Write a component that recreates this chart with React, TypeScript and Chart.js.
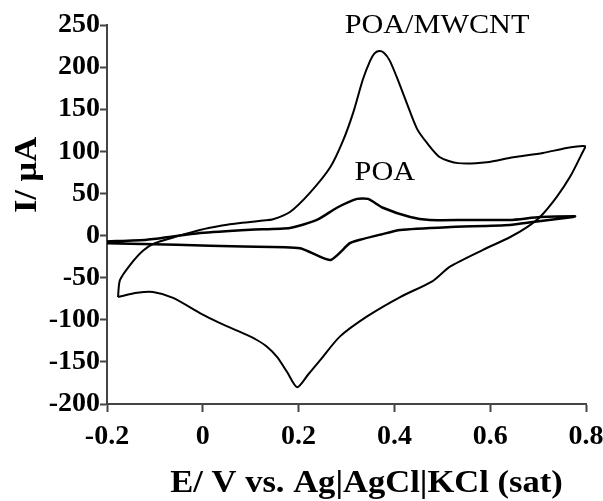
import React, { useEffect, useRef } from "react";
import { Chart, registerables } from "chart.js";

Chart.register(...registerables);

// POA/MWCNT cyclic voltammogram (E in V, I in µA), in scan order
const mwcntE = [
  -0.177, -0.173, -0.152, -0.125, -0.1, -0.06, -0.006, 0.04, 0.078, 0.099, 0.126, 0.145,
  0.182, 0.224, 0.266, 0.293, 0.314, 0.334, 0.349, 0.358, 0.368, 0.378, 0.39, 0.405, 0.426, 0.447,
  0.468, 0.495, 0.533, 0.593, 0.648, 0.71, 0.76, 0.798,
  0.792, 0.767, 0.739, 0.704, 0.677, 0.641, 0.585, 0.516, 0.48, 0.412, 0.343, 0.286,
  0.245, 0.22, 0.197, 0.176, 0.155, 0.134, 0.113, 0.092, 0.036, -0.006, -0.062, -0.104,
  -0.137, -0.177,
];
const mwcntI = [
  -73, -53, -35, -18, -9, -2, 6.7, 12, 15, 16, 18, 19,
  28, 51, 81, 113, 146, 185, 207, 216, 219, 217, 208, 188, 157, 127,
  110, 93, 86, 87, 93, 98, 104, 106,
  98, 70, 46, 22, 10, -2, -17, -37, -54, -73, -96, -120,
  -148, -165, -180, -162, -144, -132, -124, -118, -104, -92, -74, -67,
  -68, -73,
];

// POA cyclic voltammogram
const poaE = [
  -0.2, -0.117, -0.006, 0.099, 0.182, 0.238, 0.28, 0.322, 0.345, 0.376, 0.433, 0.474,
  0.55, 0.641, 0.704, 0.777,
  0.773, 0.689, 0.641, 0.51, 0.412, 0.37, 0.328, 0.307, 0.266, 0.203, 0.084, -0.054, -0.2,
];
const poaI = [
  -7, -5, 3, 7, 9, 18.5, 33, 43.5, 43.5, 33, 22, 18.5,
  18.5, 18.5, 22, 23,
  22, 16, 12.6, 10, 6.7, 1, -5, -9, -29, -15, -13, -11, -9,
];

const xTicks = [-0.2, 0, 0.2, 0.4, 0.6, 0.8];
const yTicks = [-200, -150, -100, -50, 0, 50, 100, 150, 200, 250];

const labelTexts = ["POA/MWCNT", "POA"];
const labelE = [0.489, 0.38];
const labelI = [249, 74];

const xTitle = "E/ V vs. Ag|AgCl|KCl (sat)";
const yTitle = "I/ μA";

const SERIF = '"Liberation Serif", "Times New Roman", serif';

function toPoints(xs: number[], ys: number[]) {
  return xs.map((x, i) => ({ x, y: ys[i] }));
}

function drawStretched(ctx: CanvasRenderingContext2D, t: string, x: number, y: number, sx: number) {
  ctx.save();
  ctx.translate(x, y);
  ctx.scale(sx, 1);
  ctx.fillText(t, 0, 0);
  ctx.restore();
}

const textPlugin = {
  id: "cvTexts",
  afterDraw(chart: any) {
    const ctx: CanvasRenderingContext2D = chart.ctx;
    const xs = chart.scales.x;
    const ys = chart.scales.y;
    ctx.save();
    ctx.fillStyle = "#000";
    ctx.textAlign = "center";
    ctx.textBaseline = "middle";
    ctx.font = `27px ${SERIF}`;
    labelTexts.forEach((t, i) => {
      drawStretched(ctx, t, xs.getPixelForValue(labelE[i]), ys.getPixelForValue(labelI[i]), 1.12);
    });
    ctx.font = `bold 32px ${SERIF}`;
    drawStretched(ctx, xTitle, (xs.left + xs.right) / 2 + 20, xs.bottom - 17, 1.08);
    ctx.save();
    ctx.translate(28, ys.top + 150);
    ctx.rotate(-Math.PI / 2);
    ctx.scale(1.08, 1);
    ctx.fillText(yTitle, 0, 0);
    ctx.restore();
    ctx.restore();
  },
};

export default function App() {
  const ref = useRef<HTMLCanvasElement>(null);
  useEffect(() => {
    if (!ref.current) return;
    const axisColor = "#444";
    const tickFont = { family: SERIF, size: 28, weight: "bold" as const };
    const chart = new Chart(ref.current, {
      type: "scatter",
      data: {
        datasets: [
          {
            label: "POA/MWCNT",
            data: toPoints(mwcntE, mwcntI),
            showLine: true,
            borderColor: "#000",
            borderWidth: 2,
            pointRadius: 0,
            tension: 0.25,
            fill: false,
          },
          {
            label: "POA",
            data: toPoints(poaE, poaI),
            showLine: true,
            borderColor: "#000",
            borderWidth: 2.5,
            pointRadius: 0,
            tension: 0.2,
            fill: false,
          },
        ],
      },
      options: {
        animation: false,
        responsive: true,
        maintainAspectRatio: false,
        layout: { padding: { top: 25, right: 17, left: 0, bottom: 0 } },
        plugins: {
          legend: { display: false },
          tooltip: { enabled: false },
        },
        scales: {
          x: {
            type: "linear",
            min: -0.2,
            max: 0.8,
            afterBuildTicks: (s: any) => {
              s.ticks = xTicks.map((v) => ({ value: v }));
            },
            afterFit: (s: any) => {
              s.height = 97;
              s.paddingLeft = 0;
              s.paddingRight = 0;
            },
            grid: {
              drawOnChartArea: false,
              drawTicks: true,
              tickLength: 8,
              tickWidth: 2,
              tickColor: axisColor,
            },
            border: { display: true, color: axisColor, width: 2 },
            ticks: {
              color: "#000",
              font: tickFont,
              padding: 8,
              maxRotation: 0,
              autoSkip: false,
              callback: (v: any) => String(Number(Number(v).toFixed(1))),
            },
            title: { display: false },
          },
          y: {
            type: "linear",
            min: -200,
            max: 250,
            afterBuildTicks: (s: any) => {
              s.ticks = yTicks.map((v) => ({ value: v }));
            },
            afterFit: (s: any) => {
              s.width = 107;
              s.paddingTop = 0;
              s.paddingBottom = 0;
            },
            grid: {
              drawOnChartArea: false,
              drawTicks: true,
              tickLength: 7,
              tickWidth: 2,
              tickColor: axisColor,
            },
            border: { display: true, color: axisColor, width: 2 },
            ticks: {
              color: "#000",
              font: tickFont,
              padding: 0,
              autoSkip: false,
              callback: (v: any) => String(v),
            },
            title: { display: false },
          },
        },
      },
      plugins: [textPlugin],
    });
    return () => chart.destroy();
  }, []);

  return (
    <div style={{ position: "fixed", left: 0, top: 0, width: 603, height: 501, background: "#fff" }}>
      <canvas ref={ref} />
    </div>
  );
}
